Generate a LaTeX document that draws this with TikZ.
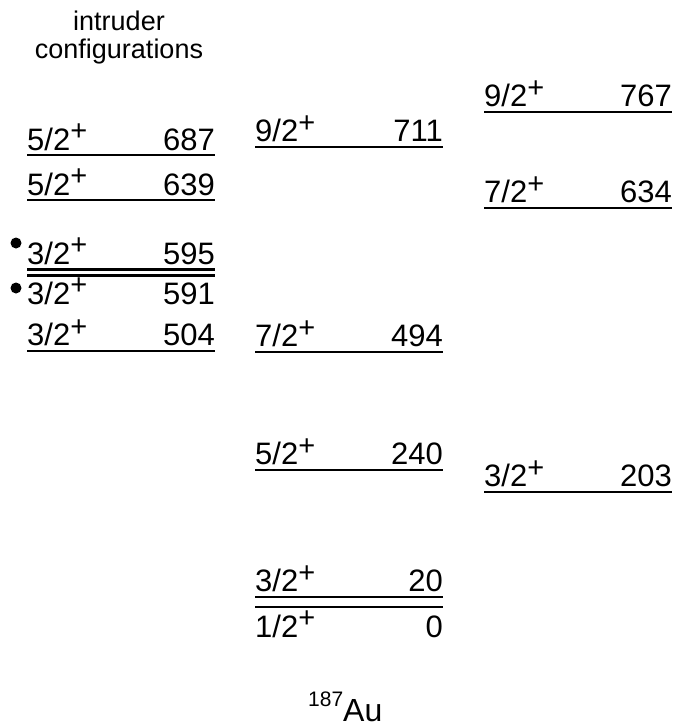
\documentclass[tikz,border=0pt]{standalone}
\usepackage{fontspec}
\setmainfont{Liberation Sans}
\newcommand\spinp[1]{#1\raisebox{9.5pt}{\fontsize{29}{29}\selectfont +}}
\begin{document}
\begin{tikzpicture}[x=1pt,y=-1pt,
  lev/.style={line width=2.5pt},
  lab/.style={inner sep=0pt,font=\fontsize{31}{31}\selectfont},
  spin/.style={lab,anchor=base west},
  en/.style={lab,anchor=base east},
  dotm/.style={circle,fill=black,inner sep=0pt,minimum size=11pt}]
\useasboundingbox (0,0) rectangle (678,728);
% title
\node[inner sep=0pt,anchor=base,font=\fontsize{27}{27}\selectfont] (t1) at (119,30) {intruder};
\node[inner sep=0pt,anchor=base,font=\fontsize{27}{27}\selectfont] (t2) at (119,58) {configurations};
% left column
\coordinate (a1) at (27,155); \coordinate (b1) at (215,155);
\draw[lev] (a1) -- (b1);
\node[spin] (s1) at (27,150) {\spinp{5/2}};
\node[en] (e1) at (215,150) {687};
\coordinate (a2) at (27,200); \coordinate (b2) at (215,200);
\draw[lev] (a2) -- (b2);
\node[spin] (s2) at (27,195) {\spinp{5/2}};
\node[en] (e2) at (215,195) {639};
\coordinate (a3) at (27,269.5); \coordinate (b3) at (215,269.5);
\draw[lev] (a3) -- (b3);
\node[spin] (s3) at (27,264) {\spinp{3/2}};
\node[en] (e3) at (215,264) {595};
\node[dotm] (d3) at (16,243) {};
\coordinate (a4) at (27,275.5); \coordinate (b4) at (215,275.5);
\draw[lev] (a4) -- (b4);
\node[spin] (s4) at (27,304) {\spinp{3/2}};
\node[en] (e4) at (215,304) {591};
\node[dotm] (d4) at (16,288) {};
\coordinate (a5) at (27,351); \coordinate (b5) at (215,351);
\draw[lev] (a5) -- (b5);
\node[spin] (s5) at (27,345.5) {\spinp{3/2}};
\node[en] (e5) at (215,345.5) {504};
% middle column
\coordinate (a6) at (255,147); \coordinate (b6) at (443,147);
\draw[lev] (a6) -- (b6);
\node[spin] (s6) at (255,141.5) {\spinp{9/2}};
\node[en] (e6) at (443,141.5) {711};
\coordinate (a7) at (255,352); \coordinate (b7) at (443,352);
\draw[lev] (a7) -- (b7);
\node[spin] (s7) at (255,346.5) {\spinp{7/2}};
\node[en] (e7) at (443,346.5) {494};
\coordinate (a8) at (255,470); \coordinate (b8) at (443,470);
\draw[lev] (a8) -- (b8);
\node[spin] (s8) at (255,464.5) {\spinp{5/2}};
\node[en] (e8) at (443,464.5) {240};
\coordinate (a9) at (255,597); \coordinate (b9) at (443,597);
\draw[lev] (a9) -- (b9);
\node[spin] (s9) at (255,591.5) {\spinp{3/2}};
\node[en] (e9) at (443,591.5) {20};
\coordinate (a10) at (255,607); \coordinate (b10) at (443,607);
\draw[lev] (a10) -- (b10);
\node[spin] (s10) at (255,637) {\spinp{1/2}};
\node[en] (e10) at (443,637) {0};
% right column
\coordinate (a11) at (484,112); \coordinate (b11) at (672,112);
\draw[lev] (a11) -- (b11);
\node[spin] (s11) at (484,106.5) {\spinp{9/2}};
\node[en] (e11) at (672,106.5) {767};
\coordinate (a12) at (484,208); \coordinate (b12) at (672,208);
\draw[lev] (a12) -- (b12);
\node[spin] (s12) at (484,202.5) {\spinp{7/2}};
\node[en] (e12) at (672,202.5) {634};
\coordinate (a13) at (484,492); \coordinate (b13) at (672,492);
\draw[lev] (a13) -- (b13);
\node[spin] (s13) at (484,486.5) {\spinp{3/2}};
\node[en] (e13) at (672,486.5) {203};
% nucleus
\node[inner sep=0pt,anchor=base west,font=\fontsize{32}{32}\selectfont] (au) at (308,721) {\raisebox{15pt}{\fontsize{21}{21}\selectfont 187}Au};
\end{tikzpicture}
\end{document}
